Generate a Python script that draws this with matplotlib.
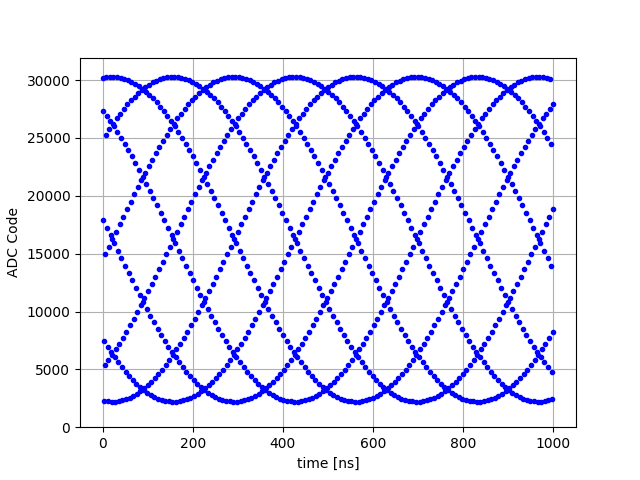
import numpy as np
import matplotlib
matplotlib.use('Agg')
import matplotlib.pyplot as plt

# ADC codes, one list per interleaved sample phase
# (phase r holds the samples taken at t = r, r+8, r+16, ... ns)
adc_r0 = [30185, 30253, 30291, 30299, 30276, 30223, 30140, 30026, 29883, 29710,
          29508, 29277, 29018, 28731, 28418, 28078, 27712, 27322, 26907, 26470,
          26010, 25529, 25028, 24508, 23971, 23416, 22846, 22262, 21664, 21055,
          20436, 19807, 19171, 18529, 17881, 17230, 16577, 15923, 15270, 14619,
          13971, 13329, 12693, 12064, 11445, 10836, 10238, 9654, 9084, 8529,
          7992, 7472, 6971, 6490, 6030, 5593, 5178, 4788, 4422, 4082,
          3769, 3482, 3223, 2992, 2790, 2617, 2474, 2360, 2277, 2224,
          2201, 2209, 2247, 2315, 2413, 2542, 2700, 2888, 3104, 3349,
          3622, 3922, 4249, 4602, 4980, 5383, 5809, 6258, 6728, 7219,
          7729, 8258, 8805, 9367, 9944, 10535, 11139, 11753, 12377, 13010,
          13649, 14295, 14944, 15596, 16250, 16904, 17556, 18205, 18851, 19490,
          20123, 20747, 21361, 21965, 22556, 23133, 23695, 24242, 24771, 25281,
          25772, 26242, 26691, 27117, 27520, 27898]

adc_r1 = [27322, 26907, 26470,
          26010, 25529, 25028, 24508, 23971, 23416, 22846, 22262, 21664, 21055,
          20436, 19807, 19171, 18529, 17881, 17230, 16577, 15923, 15270, 14619,
          13971, 13329, 12693, 12064, 11445, 10836, 10238, 9654, 9084, 8529,
          7992, 7472, 6971, 6490, 6030, 5593, 5178, 4788, 4422, 4082,
          3769, 3482, 3223, 2992, 2790, 2617, 2474, 2360, 2277, 2224,
          2201, 2209, 2247, 2315, 2413, 2542, 2700, 2888, 3104, 3349,
          3622, 3922, 4249, 4602, 4980, 5383, 5809, 6258, 6728, 7219,
          7729, 8258, 8805, 9367, 9944, 10535, 11139, 11753, 12377, 13010,
          13649, 14295, 14944, 15596, 16250, 16904, 17556, 18205, 18851, 19490,
          20123, 20747, 21361, 21965, 22556, 23133, 23695, 24242, 24771, 25281,
          25772, 26242, 26691, 27117, 27520, 27898, 28251, 28578, 28878, 29151,
          29396, 29612, 29800, 29958, 30087,
          30185, 30253, 30291, 30299, 30276, 30223, 30140]

adc_r2 = [17881, 17230, 16577, 15923, 15270, 14619,
          13971, 13329, 12693, 12064, 11445, 10836, 10238, 9654, 9084, 8529,
          7992, 7472, 6971, 6490, 6030, 5593, 5178, 4788, 4422, 4082,
          3769, 3482, 3223, 2992, 2790, 2617, 2474, 2360, 2277, 2224,
          2201, 2209, 2247, 2315, 2413, 2542, 2700, 2888, 3104, 3349,
          3622, 3922, 4249, 4602, 4980, 5383, 5809, 6258, 6728, 7219,
          7729, 8258, 8805, 9367, 9944, 10535, 11139, 11753, 12377, 13010,
          13649, 14295, 14944, 15596, 16250, 16904, 17556, 18205, 18851, 19490,
          20123, 20747, 21361, 21965, 22556, 23133, 23695, 24242, 24771, 25281,
          25772, 26242, 26691, 27117, 27520, 27898, 28251, 28578, 28878, 29151,
          29396, 29612, 29800, 29958, 30087,
          30185, 30253, 30291, 30299, 30276, 30223, 30140, 30026, 29883, 29710,
          29508, 29277, 29018, 28731, 28418, 28078, 27712, 27322, 26907, 26470,
          26010, 25529, 25028, 24508]

adc_r3 = [7472, 6971, 6490, 6030, 5593, 5178, 4788, 4422, 4082,
          3769, 3482, 3223, 2992, 2790, 2617, 2474, 2360, 2277, 2224,
          2201, 2209, 2247, 2315, 2413, 2542, 2700, 2888, 3104, 3349,
          3622, 3922, 4249, 4602, 4980, 5383, 5809, 6258, 6728, 7219,
          7729, 8258, 8805, 9367, 9944, 10535, 11139, 11753, 12377, 13010,
          13649, 14295, 14944, 15596, 16250, 16904, 17556, 18205, 18851, 19490,
          20123, 20747, 21361, 21965, 22556, 23133, 23695, 24242, 24771, 25281,
          25772, 26242, 26691, 27117, 27520, 27898, 28251, 28578, 28878, 29151,
          29396, 29612, 29800, 29958, 30087,
          30185, 30253, 30291, 30299, 30276, 30223, 30140, 30026, 29883, 29710,
          29508, 29277, 29018, 28731, 28418, 28078, 27712, 27322, 26907, 26470,
          26010, 25529, 25028, 24508, 23971, 23416, 22846, 22262, 21664, 21055,
          20436, 19807, 19171, 18529, 17881, 17230, 16577, 15923, 15270, 14619,
          13971]

adc_r4 = [2277, 2224,
          2201, 2209, 2247, 2315, 2413, 2542, 2700, 2888, 3104, 3349,
          3622, 3922, 4249, 4602, 4980, 5383, 5809, 6258, 6728, 7219,
          7729, 8258, 8805, 9367, 9944, 10535, 11139, 11753, 12377, 13010,
          13649, 14295, 14944, 15596, 16250, 16904, 17556, 18205, 18851, 19490,
          20123, 20747, 21361, 21965, 22556, 23133, 23695, 24242, 24771, 25281,
          25772, 26242, 26691, 27117, 27520, 27898, 28251, 28578, 28878, 29151,
          29396, 29612, 29800, 29958, 30087,
          30185, 30253, 30291, 30299, 30276, 30223, 30140, 30026, 29883, 29710,
          29508, 29277, 29018, 28731, 28418, 28078, 27712, 27322, 26907, 26470,
          26010, 25529, 25028, 24508, 23971, 23416, 22846, 22262, 21664, 21055,
          20436, 19807, 19171, 18529, 17881, 17230, 16577, 15923, 15270, 14619,
          13971, 13329, 12693, 12064, 11445, 10836, 10238, 9654, 9084, 8529,
          7992, 7472, 6971, 6490, 6030, 5593, 5178, 4788]

adc_r5 = [5383, 5809, 6258, 6728, 7219,
          7729, 8258, 8805, 9367, 9944, 10535, 11139, 11753, 12377, 13010,
          13649, 14295, 14944, 15596, 16250, 16904, 17556, 18205, 18851, 19490,
          20123, 20747, 21361, 21965, 22556, 23133, 23695, 24242, 24771, 25281,
          25772, 26242, 26691, 27117, 27520, 27898, 28251, 28578, 28878, 29151,
          29396, 29612, 29800, 29958, 30087,
          30185, 30253, 30291, 30299, 30276, 30223, 30140, 30026, 29883, 29710,
          29508, 29277, 29018, 28731, 28418, 28078, 27712, 27322, 26907, 26470,
          26010, 25529, 25028, 24508, 23971, 23416, 22846, 22262, 21664, 21055,
          20436, 19807, 19171, 18529, 17881, 17230, 16577, 15923, 15270, 14619,
          13971, 13329, 12693, 12064, 11445, 10836, 10238, 9654, 9084, 8529,
          7992, 7472, 6971, 6490, 6030, 5593, 5178, 4788, 4422, 4082,
          3769, 3482, 3223, 2992, 2790, 2617, 2474, 2360, 2277, 2224,
          2201, 2209, 2247, 2315, 2413]

adc_r6 = [14944, 15596, 16250, 16904, 17556, 18205, 18851, 19490,
          20123, 20747, 21361, 21965, 22556, 23133, 23695, 24242, 24771, 25281,
          25772, 26242, 26691, 27117, 27520, 27898, 28251, 28578, 28878, 29151,
          29396, 29612, 29800, 29958, 30087,
          30185, 30253, 30291, 30299, 30276, 30223, 30140, 30026, 29883, 29710,
          29508, 29277, 29018, 28731, 28418, 28078, 27712, 27322, 26907, 26470,
          26010, 25529, 25028, 24508, 23971, 23416, 22846, 22262, 21664, 21055,
          20436, 19807, 19171, 18529, 17881, 17230, 16577, 15923, 15270, 14619,
          13971, 13329, 12693, 12064, 11445, 10836, 10238, 9654, 9084, 8529,
          7992, 7472, 6971, 6490, 6030, 5593, 5178, 4788, 4422, 4082,
          3769, 3482, 3223, 2992, 2790, 2617, 2474, 2360, 2277, 2224,
          2201, 2209, 2247, 2315, 2413, 2542, 2700, 2888, 3104, 3349,
          3622, 3922, 4249, 4602, 4980, 5383, 5809, 6258, 6728, 7219,
          7729, 8258]

adc_r7 = [25281,
          25772, 26242, 26691, 27117, 27520, 27898, 28251, 28578, 28878, 29151,
          29396, 29612, 29800, 29958, 30087,
          30185, 30253, 30291, 30299, 30276, 30223, 30140, 30026, 29883, 29710,
          29508, 29277, 29018, 28731, 28418, 28078, 27712, 27322, 26907, 26470,
          26010, 25529, 25028, 24508, 23971, 23416, 22846, 22262, 21664, 21055,
          20436, 19807, 19171, 18529, 17881, 17230, 16577, 15923, 15270, 14619,
          13971, 13329, 12693, 12064, 11445, 10836, 10238, 9654, 9084, 8529,
          7992, 7472, 6971, 6490, 6030, 5593, 5178, 4788, 4422, 4082,
          3769, 3482, 3223, 2992, 2790, 2617, 2474, 2360, 2277, 2224,
          2201, 2209, 2247, 2315, 2413, 2542, 2700, 2888, 3104, 3349,
          3622, 3922, 4249, 4602, 4980, 5383, 5809, 6258, 6728, 7219,
          7729, 8258, 8805, 9367, 9944, 10535, 11139, 11753, 12377, 13010,
          13649, 14295, 14944, 15596, 16250, 16904, 17556, 18205, 18851]

phases = [adc_r0, adc_r1, adc_r2, adc_r3, adc_r4, adc_r5, adc_r6, adc_r7]

fig, ax = plt.subplots(figsize=(6.4, 4.8), dpi=100)
for r, codes in enumerate(phases):
    t = np.arange(r, r + 8 * len(codes), 8)  # 1 ns sample period
    ax.plot(t, codes, 'b.')

ax.set_ylim(0, 31950)
ax.set_xlabel('time [ns]')
ax.set_ylabel('ADC Code')
ax.grid(True)

fig.savefig('out.png')
